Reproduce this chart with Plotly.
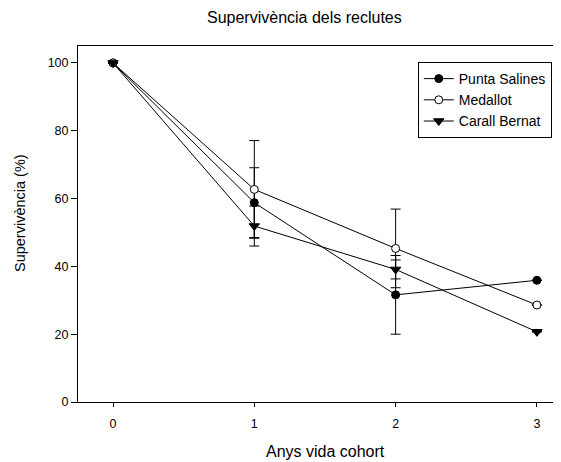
import plotly.graph_objects as go

years = [0, 1, 2, 3]
punta = [100, 58.8, 31.6, 35.9]
punta_err = [0, 10.3, 11.6, 0]
medallot = [100, 62.7, 45.3, 28.6]
medallot_err = [0, 14.4, 11.6, 0]
carall = [100, 51.9, 39.1, 20.7]
carall_err = [0, 5.9, 2.8, 0]

series = [
    ("Punta Salines", punta, punta_err, dict(symbol="circle", size=8, color="black", line=dict(color="black", width=1))),
    ("Medallot", medallot, medallot_err, dict(symbol="circle", size=8, color="white", line=dict(color="black", width=1))),
    ("Carall Bernat", carall, carall_err, dict(symbol="triangle-down", size=9, color="black", line=dict(color="black", width=1))),
]

FONT = "Liberation Sans, Arial, sans-serif"

fig = go.Figure()
for name, vals, err, mk in series:
    fig.add_trace(go.Scatter(
        x=years, y=vals, name=name, mode="lines+markers",
        line=dict(color="black", width=1),
        marker=mk,
        error_y=dict(type="data", array=err, visible=True, color="black", thickness=1, width=5),
        cliponaxis=False,
    ))

fig.update_layout(
    width=561, height=462,
    margin=dict(l=70, r=0, t=38, b=68, autoexpand=False),
    paper_bgcolor="white", plot_bgcolor="white",
    font=dict(family=FONT, size=12, color="black"),
    showlegend=True,
    legend=dict(x=0.692, y=0.955, xanchor="left", yanchor="top",
                bordercolor="black", borderwidth=1, bgcolor="white",
                font=dict(size=14, family=FONT), tracegroupgap=0),
    xaxis=dict(range=[-0.2477, 3.227], tickvals=years, ticktext=[str(v) for v in years],
               showline=True, linecolor="black", linewidth=1, mirror=True,
               ticks="outside", ticklen=4, tickcolor="black", showgrid=False, zeroline=False,
               tickfont=dict(size=12.5), ticklabelstandoff=6, automargin=False),
    yaxis=dict(range=[0, 105], tickvals=[0, 20, 40, 60, 80, 100],
               showline=True, linecolor="black", linewidth=1, mirror=False,
               ticks="outside", ticklen=6, tickcolor="black", showgrid=False, zeroline=False,
               tickfont=dict(size=12.5), automargin=False),
    annotations=[
        dict(text="Supervivència dels reclutes", xref="paper", yref="paper", x=0.462, y=1.081,
             xanchor="center", yanchor="middle", showarrow=False, font=dict(size=16, family=FONT)),
        dict(text="Anys vida cohort", xref="paper", yref="paper", x=0.505, y=-0.140,
             xanchor="center", yanchor="middle", showarrow=False, font=dict(size=16, family=FONT)),
        dict(text="Supervivència (%)", xref="paper", yref="paper", x=-0.118, y=0.531,
             xanchor="center", yanchor="middle", showarrow=False, textangle=-90,
             font=dict(size=14.5, family=FONT)),
    ],
)

fig.write_html("out.html")
